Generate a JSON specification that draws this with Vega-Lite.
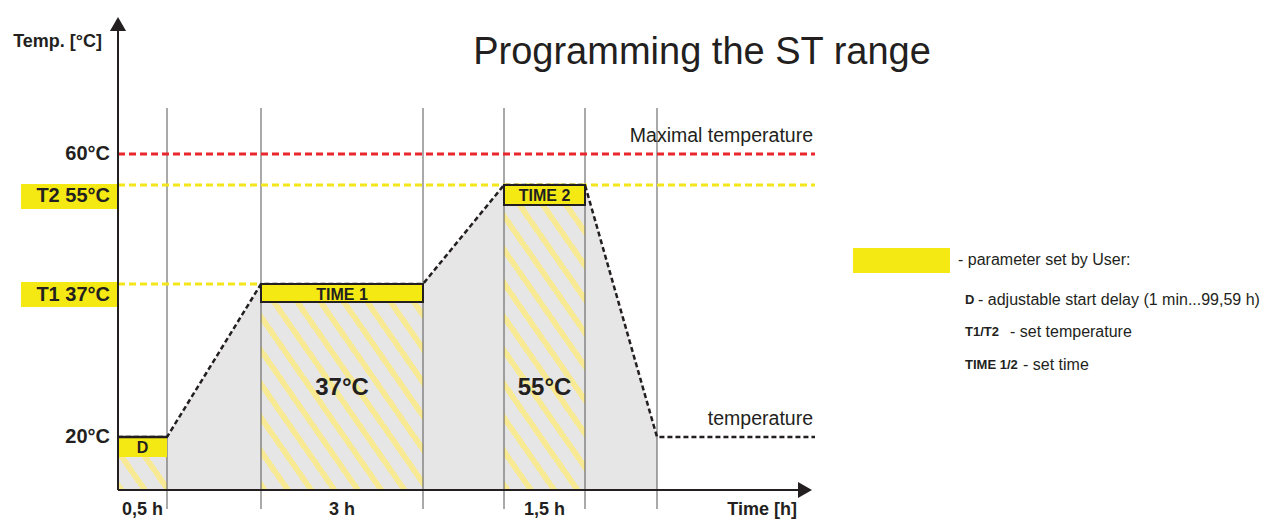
{
  "$schema": "https://vega.github.io/schema/vega-lite/v6.json",
  "width": 1271,
  "height": 520,
  "autosize": "none",
  "padding": 0,
  "config": {"view": {"stroke": null}},
  "datasets": {
    "curve": [
      {"u": 0, "v": 5.3}, {"u": 0.49, "v": 5.3}, {"u": 1.43, "v": 20.6}, {"u": 3.05, "v": 20.6},
      {"u": 3.86, "v": 30.5}, {"u": 4.67, "v": 30.5}, {"u": 5.39, "v": 5.3}, {"u": 6.97, "v": 5.3}
    ],
    "holds": [
      {"label": "D", "u0": 0, "u1": 0.49, "mid": 0.245, "level": 5.3, "base": 0, "boxBottom": 3.3, "dur": "0,5 h", "durV": -2.5, "inside": "", "insideV": 10.2},
      {"label": "TIME 1", "u0": 1.43, "u1": 3.05, "mid": 2.24, "level": 20.6, "base": 0, "boxBottom": 18.8, "dur": "3 h", "durV": -2.5, "inside": "37°C", "insideV": 10.2},
      {"label": "TIME 2", "u0": 3.86, "u1": 4.67, "mid": 4.265, "level": 30.5, "base": 0, "boxBottom": 28.5, "dur": "1,5 h", "durV": -2.5, "inside": "55°C", "insideV": 10.2}
    ],
    "levels": [
      {"v": 33.6, "label": "60°C", "kind": "max", "start": 0, "end": 6.97},
      {"v": 30.5, "label": "T2 55°C", "kind": "set", "start": 0, "end": 6.97},
      {"v": 20.6, "label": "T1 37°C", "kind": "set", "start": 0, "end": 1.43},
      {"v": 5.3, "label": "20°C", "kind": "base", "start": 0, "end": 0}
    ],
    "boundaries": [
      {"u": 0.49, "top": 38.2, "bottom": -1.9}, {"u": 1.43, "top": 38.2, "bottom": -1.9}, {"u": 3.05, "top": 38.2, "bottom": -1.9},
      {"u": 3.86, "top": 38.2, "bottom": -1.9}, {"u": 4.67, "top": 38.2, "bottom": -1.9}, {"u": 5.39, "top": 38.2, "bottom": -1.9}
    ],
    "boxes": [
      {"name": "T2", "x0": -0.97, "x1": -0.01, "top": 30.6, "bottom": 28.1},
      {"name": "T1", "x0": -0.97, "x1": -0.01, "top": 20.8, "bottom": 18.3},
      {"name": "legend", "x0": 7.35, "x1": 8.32, "top": 24.2, "bottom": 21.7}
    ],
    "legend": [
      {"key": "D", "desc": "- adjustable start delay  (1 min...99,59 h)", "v": 19.0, "keyU": 8.47, "descU": 8.6},
      {"key": "T1/T2", "desc": "- set temperature", "v": 15.8, "keyU": 8.47, "descU": 8.92},
      {"key": "TIME 1/2", "desc": "- set time", "v": 12.5, "keyU": 8.47, "descU": 9.05}
    ]
  },
  "layer": [
    {
      "data": {"name": "curve"},
      "transform": [{"filter": "datum.u <= 5.39"}],
      "mark": {"type": "area", "color": "#e6e6e6"},
      "encoding": {
        "x": {"field": "u", "type": "quantitative", "axis": null, "scale": {"domain": [-1.18, 11.53], "nice": false, "zero": false}},
        "y": {"field": "v", "type": "quantitative", "axis": null, "scale": {"domain": [-3, 49], "nice": false, "zero": false}}
      }
    },
    {
      "data": {"name": "holds"},
      "transform": [{"filter": "datum.label === 'D'"}],
      "mark": {"type": "rect", "color": {"gradient": "linear", "x1": 0, "y1": 1, "x2": 1.1195, "y2": 0.1591, "stops": [
        {"offset": 0, "color": "#f8ea94"}, {"offset": 0.0816, "color": "#f8ea94"}, {"offset": 0.0816, "color": "#e6e6e6"}, {"offset": 0.2719, "color": "#e6e6e6"},
        {"offset": 0.2719, "color": "#f8ea94"}, {"offset": 0.3535, "color": "#f8ea94"}, {"offset": 0.3535, "color": "#e6e6e6"}, {"offset": 0.5439, "color": "#e6e6e6"},
        {"offset": 0.5439, "color": "#f8ea94"}, {"offset": 0.6255, "color": "#f8ea94"}, {"offset": 0.6255, "color": "#e6e6e6"}, {"offset": 0.8158, "color": "#e6e6e6"},
        {"offset": 0.8158, "color": "#f8ea94"}, {"offset": 0.8974, "color": "#f8ea94"}, {"offset": 0.8974, "color": "#e6e6e6"}, {"offset": 1, "color": "#e6e6e6"}
      ]}},
      "encoding": {
        "x": {"field": "u0", "type": "quantitative", "axis": null, "scale": {"domain": [-1.18, 11.53], "nice": false, "zero": false}},
        "x2": {"field": "u1"},
        "y": {"field": "level", "type": "quantitative", "axis": null, "scale": {"domain": [-3, 49], "nice": false, "zero": false}},
        "y2": {"field": "base"}
      }
    },
    {
      "data": {"name": "holds"},
      "transform": [{"filter": "datum.label === 'TIME 1'"}],
      "mark": {"type": "rect", "color": {"gradient": "linear", "x1": 0, "y1": 1, "x2": 1.058, "y2": 0.0658, "stops": [
        {"offset": 0, "color": "#f8ea94"}, {"offset": 0.023, "color": "#f8ea94"}, {"offset": 0.023, "color": "#e6e6e6"}, {"offset": 0.0765, "color": "#e6e6e6"},
        {"offset": 0.0765, "color": "#f8ea94"}, {"offset": 0.0994, "color": "#f8ea94"}, {"offset": 0.0994, "color": "#e6e6e6"}, {"offset": 0.153, "color": "#e6e6e6"},
        {"offset": 0.153, "color": "#f8ea94"}, {"offset": 0.1759, "color": "#f8ea94"}, {"offset": 0.1759, "color": "#e6e6e6"}, {"offset": 0.2295, "color": "#e6e6e6"},
        {"offset": 0.2295, "color": "#f8ea94"}, {"offset": 0.2524, "color": "#f8ea94"}, {"offset": 0.2524, "color": "#e6e6e6"}, {"offset": 0.306, "color": "#e6e6e6"},
        {"offset": 0.306, "color": "#f8ea94"}, {"offset": 0.3289, "color": "#f8ea94"}, {"offset": 0.3289, "color": "#e6e6e6"}, {"offset": 0.3825, "color": "#e6e6e6"},
        {"offset": 0.3825, "color": "#f8ea94"}, {"offset": 0.4054, "color": "#f8ea94"}, {"offset": 0.4054, "color": "#e6e6e6"}, {"offset": 0.4589, "color": "#e6e6e6"},
        {"offset": 0.4589, "color": "#f8ea94"}, {"offset": 0.4819, "color": "#f8ea94"}, {"offset": 0.4819, "color": "#e6e6e6"}, {"offset": 0.5354, "color": "#e6e6e6"},
        {"offset": 0.5354, "color": "#f8ea94"}, {"offset": 0.5584, "color": "#f8ea94"}, {"offset": 0.5584, "color": "#e6e6e6"}, {"offset": 0.6119, "color": "#e6e6e6"},
        {"offset": 0.6119, "color": "#f8ea94"}, {"offset": 0.6349, "color": "#f8ea94"}, {"offset": 0.6349, "color": "#e6e6e6"}, {"offset": 0.6884, "color": "#e6e6e6"},
        {"offset": 0.6884, "color": "#f8ea94"}, {"offset": 0.7114, "color": "#f8ea94"}, {"offset": 0.7114, "color": "#e6e6e6"}, {"offset": 0.7649, "color": "#e6e6e6"},
        {"offset": 0.7649, "color": "#f8ea94"}, {"offset": 0.7879, "color": "#f8ea94"}, {"offset": 0.7879, "color": "#e6e6e6"}, {"offset": 0.8414, "color": "#e6e6e6"},
        {"offset": 0.8414, "color": "#f8ea94"}, {"offset": 0.8643, "color": "#f8ea94"}, {"offset": 0.8643, "color": "#e6e6e6"}, {"offset": 0.9179, "color": "#e6e6e6"},
        {"offset": 0.9179, "color": "#f8ea94"}, {"offset": 0.9408, "color": "#f8ea94"}, {"offset": 0.9408, "color": "#e6e6e6"}, {"offset": 0.9944, "color": "#e6e6e6"},
        {"offset": 0.9944, "color": "#f8ea94"}, {"offset": 1, "color": "#f8ea94"}
      ]}},
      "encoding": {
        "x": {"field": "u0", "type": "quantitative", "axis": null, "scale": {"domain": [-1.18, 11.53], "nice": false, "zero": false}},
        "x2": {"field": "u1"},
        "y": {"field": "level", "type": "quantitative", "axis": null, "scale": {"domain": [-3, 49], "nice": false, "zero": false}},
        "y2": {"field": "base"}
      }
    },
    {
      "data": {"name": "holds"},
      "transform": [{"filter": "datum.label === 'TIME 2'"}],
      "mark": {"type": "rect", "color": {"gradient": "linear", "x1": 0, "y1": 1, "x2": 0.4612, "y2": -0.206, "stops": [
        {"offset": 0, "color": "#f8ea94"}, {"offset": 0.0239, "color": "#f8ea94"}, {"offset": 0.0239, "color": "#e6e6e6"}, {"offset": 0.0797, "color": "#e6e6e6"},
        {"offset": 0.0797, "color": "#f8ea94"}, {"offset": 0.1036, "color": "#f8ea94"}, {"offset": 0.1036, "color": "#e6e6e6"}, {"offset": 0.1594, "color": "#e6e6e6"},
        {"offset": 0.1594, "color": "#f8ea94"}, {"offset": 0.1833, "color": "#f8ea94"}, {"offset": 0.1833, "color": "#e6e6e6"}, {"offset": 0.2391, "color": "#e6e6e6"},
        {"offset": 0.2391, "color": "#f8ea94"}, {"offset": 0.263, "color": "#f8ea94"}, {"offset": 0.263, "color": "#e6e6e6"}, {"offset": 0.3188, "color": "#e6e6e6"},
        {"offset": 0.3188, "color": "#f8ea94"}, {"offset": 0.3427, "color": "#f8ea94"}, {"offset": 0.3427, "color": "#e6e6e6"}, {"offset": 0.3985, "color": "#e6e6e6"},
        {"offset": 0.3985, "color": "#f8ea94"}, {"offset": 0.4224, "color": "#f8ea94"}, {"offset": 0.4224, "color": "#e6e6e6"}, {"offset": 0.4781, "color": "#e6e6e6"},
        {"offset": 0.4781, "color": "#f8ea94"}, {"offset": 0.5021, "color": "#f8ea94"}, {"offset": 0.5021, "color": "#e6e6e6"}, {"offset": 0.5578, "color": "#e6e6e6"},
        {"offset": 0.5578, "color": "#f8ea94"}, {"offset": 0.5817, "color": "#f8ea94"}, {"offset": 0.5817, "color": "#e6e6e6"}, {"offset": 0.6375, "color": "#e6e6e6"},
        {"offset": 0.6375, "color": "#f8ea94"}, {"offset": 0.6614, "color": "#f8ea94"}, {"offset": 0.6614, "color": "#e6e6e6"}, {"offset": 0.7172, "color": "#e6e6e6"},
        {"offset": 0.7172, "color": "#f8ea94"}, {"offset": 0.7411, "color": "#f8ea94"}, {"offset": 0.7411, "color": "#e6e6e6"}, {"offset": 0.7969, "color": "#e6e6e6"},
        {"offset": 0.7969, "color": "#f8ea94"}, {"offset": 0.8208, "color": "#f8ea94"}, {"offset": 0.8208, "color": "#e6e6e6"}, {"offset": 0.8766, "color": "#e6e6e6"},
        {"offset": 0.8766, "color": "#f8ea94"}, {"offset": 0.9005, "color": "#f8ea94"}, {"offset": 0.9005, "color": "#e6e6e6"}, {"offset": 0.9563, "color": "#e6e6e6"},
        {"offset": 0.9563, "color": "#f8ea94"}, {"offset": 0.9802, "color": "#f8ea94"}, {"offset": 0.9802, "color": "#e6e6e6"}, {"offset": 1, "color": "#e6e6e6"}
      ]}},
      "encoding": {
        "x": {"field": "u0", "type": "quantitative", "axis": null, "scale": {"domain": [-1.18, 11.53], "nice": false, "zero": false}},
        "x2": {"field": "u1"},
        "y": {"field": "level", "type": "quantitative", "axis": null, "scale": {"domain": [-3, 49], "nice": false, "zero": false}},
        "y2": {"field": "base"}
      }
    },
    {
      "data": {"name": "boundaries"},
      "mark": {"type": "rule", "color": "#555555", "strokeWidth": 1},
      "encoding": {
        "x": {"field": "u", "type": "quantitative", "axis": null, "scale": {"domain": [-1.18, 11.53], "nice": false, "zero": false}},
        "y": {"field": "top", "type": "quantitative", "axis": null, "scale": {"domain": [-3, 49], "nice": false, "zero": false}},
        "y2": {"field": "bottom"}
      }
    },
    {
      "data": {"name": "levels"},
      "transform": [{"filter": "datum.kind === 'max'"}],
      "mark": {"type": "rule", "color": "#e8262b", "strokeWidth": 3, "strokeDash": [7, 4]},
      "encoding": {
        "x": {"field": "start", "type": "quantitative", "axis": null, "scale": {"domain": [-1.18, 11.53], "nice": false, "zero": false}},
        "x2": {"field": "end"},
        "y": {"field": "v", "type": "quantitative", "axis": null, "scale": {"domain": [-3, 49], "nice": false, "zero": false}}
      }
    },
    {
      "data": {"name": "levels"},
      "transform": [{"filter": "datum.kind === 'set'"}],
      "mark": {"type": "rule", "color": "#f4e61a", "strokeWidth": 3, "strokeDash": [7, 4]},
      "encoding": {
        "x": {"field": "start", "type": "quantitative", "axis": null, "scale": {"domain": [-1.18, 11.53], "nice": false, "zero": false}},
        "x2": {"field": "end"},
        "y": {"field": "v", "type": "quantitative", "axis": null, "scale": {"domain": [-3, 49], "nice": false, "zero": false}}
      }
    },
    {
      "data": {"name": "boxes"},
      "mark": {"type": "rect", "fill": "#f5e914"},
      "encoding": {
        "x": {"field": "x0", "type": "quantitative", "axis": null, "scale": {"domain": [-1.18, 11.53], "nice": false, "zero": false}},
        "x2": {"field": "x1"},
        "y": {"field": "top", "type": "quantitative", "axis": null, "scale": {"domain": [-3, 49], "nice": false, "zero": false}},
        "y2": {"field": "bottom"}
      }
    },
    {
      "data": {"name": "levels"},
      "transform": [{"filter": "datum.kind !== 'set'"}],
      "mark": {"type": "text", "align": "right", "baseline": "middle", "dx": -8, "font": "Liberation Sans", "fontSize": 20, "fontWeight": "bold", "color": "#231f20"},
      "encoding": {
        "x": {"field": "start", "type": "quantitative", "axis": null, "scale": {"domain": [-1.18, 11.53], "nice": false, "zero": false}},
        "y": {"field": "v", "type": "quantitative", "axis": null, "scale": {"domain": [-3, 49], "nice": false, "zero": false}},
        "text": {"field": "label", "type": "nominal"}
      }
    },
    {
      "data": {"name": "levels"},
      "transform": [{"filter": "datum.kind === 'set'"}],
      "mark": {"type": "text", "align": "right", "baseline": "middle", "dx": -8, "dy": 11, "font": "Liberation Sans", "fontSize": 20, "fontWeight": "bold", "color": "#231f20"},
      "encoding": {
        "x": {"field": "start", "type": "quantitative", "axis": null, "scale": {"domain": [-1.18, 11.53], "nice": false, "zero": false}},
        "y": {"field": "v", "type": "quantitative", "axis": null, "scale": {"domain": [-3, 49], "nice": false, "zero": false}},
        "text": {"field": "label", "type": "nominal"}
      }
    },
    {
      "data": {"name": "curve"},
      "mark": {"type": "line", "color": "#231f20", "strokeWidth": 2.5, "strokeDash": [5, 3]},
      "encoding": {
        "x": {"field": "u", "type": "quantitative", "axis": null, "scale": {"domain": [-1.18, 11.53], "nice": false, "zero": false}},
        "y": {"field": "v", "type": "quantitative", "axis": null, "scale": {"domain": [-3, 49], "nice": false, "zero": false}}
      }
    },
    {
      "data": {"name": "holds"},
      "transform": [{"filter": "datum.label === 'D'"}],
      "mark": {"type": "rect", "fill": "#f5e914"},
      "encoding": {
        "x": {"field": "u0", "type": "quantitative", "axis": null, "scale": {"domain": [-1.18, 11.53], "nice": false, "zero": false}},
        "x2": {"field": "u1"},
        "y": {"field": "level", "type": "quantitative", "axis": null, "scale": {"domain": [-3, 49], "nice": false, "zero": false}},
        "y2": {"field": "boxBottom"}
      }
    },
    {
      "data": {"name": "holds"},
      "transform": [{"filter": "datum.label === 'D'"}],
      "mark": {"type": "rule", "color": "#231f20", "strokeWidth": 2.5},
      "encoding": {
        "x": {"field": "u0", "type": "quantitative", "axis": null, "scale": {"domain": [-1.18, 11.53], "nice": false, "zero": false}},
        "x2": {"field": "u1"},
        "y": {"field": "level", "type": "quantitative", "axis": null, "scale": {"domain": [-3, 49], "nice": false, "zero": false}}
      }
    },
    {
      "data": {"name": "holds"},
      "transform": [{"filter": "datum.label !== 'D'"}],
      "mark": {"type": "rect", "fill": "#f5e914", "stroke": "#231f20", "strokeWidth": 2},
      "encoding": {
        "x": {"field": "u0", "type": "quantitative", "axis": null, "scale": {"domain": [-1.18, 11.53], "nice": false, "zero": false}},
        "x2": {"field": "u1"},
        "y": {"field": "level", "type": "quantitative", "axis": null, "scale": {"domain": [-3, 49], "nice": false, "zero": false}},
        "y2": {"field": "boxBottom"}
      }
    },
    {
      "data": {"name": "holds"},
      "mark": {"type": "text", "align": "center", "baseline": "middle", "dy": 11, "font": "Liberation Sans", "fontSize": 16, "fontWeight": "bold", "color": "#231f20"},
      "encoding": {
        "x": {"field": "mid", "type": "quantitative", "axis": null, "scale": {"domain": [-1.18, 11.53], "nice": false, "zero": false}},
        "y": {"field": "level", "type": "quantitative", "axis": null, "scale": {"domain": [-3, 49], "nice": false, "zero": false}},
        "text": {"field": "label", "type": "nominal"}
      }
    },
    {
      "data": {"name": "holds"},
      "transform": [{"filter": "datum.inside !== ''"}],
      "mark": {"type": "text", "align": "center", "baseline": "middle", "font": "Liberation Sans", "fontSize": 24, "fontWeight": "bold", "color": "#231f20"},
      "encoding": {
        "x": {"field": "mid", "type": "quantitative", "axis": null, "scale": {"domain": [-1.18, 11.53], "nice": false, "zero": false}},
        "y": {"field": "insideV", "type": "quantitative", "axis": null, "scale": {"domain": [-3, 49], "nice": false, "zero": false}},
        "text": {"field": "inside", "type": "nominal"}
      }
    },
    {
      "data": {"name": "holds"},
      "mark": {"type": "text", "align": "center", "baseline": "alphabetic", "font": "Liberation Sans", "fontSize": 18, "fontWeight": "bold", "color": "#231f20"},
      "encoding": {
        "x": {"field": "mid", "type": "quantitative", "axis": null, "scale": {"domain": [-1.18, 11.53], "nice": false, "zero": false}},
        "y": {"field": "durV", "type": "quantitative", "axis": null, "scale": {"domain": [-3, 49], "nice": false, "zero": false}},
        "text": {"field": "dur", "type": "nominal"}
      }
    },
    {
      "data": {"values": [{"label": "Time [h]", "u": 6.79, "v": -2.5}, {"label": "Temp. [°C]", "u": -0.16, "v": 44.3}]},
      "mark": {"type": "text", "align": "right", "baseline": "alphabetic", "font": "Liberation Sans", "fontSize": 18, "fontWeight": "bold", "color": "#231f20"},
      "encoding": {
        "x": {"field": "u", "type": "quantitative", "axis": null, "scale": {"domain": [-1.18, 11.53], "nice": false, "zero": false}},
        "y": {"field": "v", "type": "quantitative", "axis": null, "scale": {"domain": [-3, 49], "nice": false, "zero": false}},
        "text": {"field": "label", "type": "nominal"}
      }
    },
    {
      "data": {"values": [{"label": "Programming the ST range", "u": 5.84, "v": 42.6}]},
      "mark": {"type": "text", "align": "center", "baseline": "alphabetic", "font": "Liberation Sans", "fontSize": 38, "fontWeight": "normal", "color": "#231f20"},
      "encoding": {
        "x": {"field": "u", "type": "quantitative", "axis": null, "scale": {"domain": [-1.18, 11.53], "nice": false, "zero": false}},
        "y": {"field": "v", "type": "quantitative", "axis": null, "scale": {"domain": [-3, 49], "nice": false, "zero": false}},
        "text": {"field": "label", "type": "nominal"}
      }
    },
    {
      "data": {"values": [{"label": "Maximal temperature", "u": 6.95, "v": 34.8}, {"label": "temperature", "u": 6.95, "v": 6.5}]},
      "mark": {"type": "text", "align": "right", "baseline": "alphabetic", "font": "Liberation Sans", "fontSize": 19.5, "fontWeight": "normal", "color": "#231f20"},
      "encoding": {
        "x": {"field": "u", "type": "quantitative", "axis": null, "scale": {"domain": [-1.18, 11.53], "nice": false, "zero": false}},
        "y": {"field": "v", "type": "quantitative", "axis": null, "scale": {"domain": [-3, 49], "nice": false, "zero": false}},
        "text": {"field": "label", "type": "nominal"}
      }
    },
    {
      "data": {"values": [{"name": "Temp", "u": 0, "v0": 0, "v1": 45.9}]},
      "mark": {"type": "rule", "color": "#231f20", "strokeWidth": 2},
      "encoding": {
        "x": {"field": "u", "type": "quantitative", "axis": null, "scale": {"domain": [-1.18, 11.53], "nice": false, "zero": false}},
        "y": {"field": "v0", "type": "quantitative", "axis": null, "scale": {"domain": [-3, 49], "nice": false, "zero": false}},
        "y2": {"field": "v1"}
      }
    },
    {
      "data": {"values": [{"name": "Time", "u0": 0, "u1": 6.8, "v": 0}]},
      "mark": {"type": "rule", "color": "#231f20", "strokeWidth": 2},
      "encoding": {
        "x": {"field": "u0", "type": "quantitative", "axis": null, "scale": {"domain": [-1.18, 11.53], "nice": false, "zero": false}},
        "x2": {"field": "u1"},
        "y": {"field": "v", "type": "quantitative", "axis": null, "scale": {"domain": [-3, 49], "nice": false, "zero": false}}
      }
    },
    {
      "data": {"values": [{"name": "Temp", "u": 0, "v": 46.6}]},
      "mark": {"type": "point", "shape": "triangle-up", "size": 260, "filled": true, "color": "#231f20", "opacity": 1},
      "encoding": {
        "x": {"field": "u", "type": "quantitative", "axis": null, "scale": {"domain": [-1.18, 11.53], "nice": false, "zero": false}},
        "y": {"field": "v", "type": "quantitative", "axis": null, "scale": {"domain": [-3, 49], "nice": false, "zero": false}}
      }
    },
    {
      "data": {"values": [{"name": "Time", "u": 6.87, "v": 0}]},
      "mark": {"type": "point", "shape": "triangle-right", "size": 260, "filled": true, "color": "#231f20", "opacity": 1},
      "encoding": {
        "x": {"field": "u", "type": "quantitative", "axis": null, "scale": {"domain": [-1.18, 11.53], "nice": false, "zero": false}},
        "y": {"field": "v", "type": "quantitative", "axis": null, "scale": {"domain": [-3, 49], "nice": false, "zero": false}}
      }
    },
    {
      "data": {"values": [{"label": "- parameter set by User:", "u": 8.4, "v": 23.0}]},
      "mark": {"type": "text", "align": "left", "baseline": "middle", "font": "Liberation Sans", "fontSize": 16, "color": "#231f20"},
      "encoding": {
        "x": {"field": "u", "type": "quantitative", "axis": null, "scale": {"domain": [-1.18, 11.53], "nice": false, "zero": false}},
        "y": {"field": "v", "type": "quantitative", "axis": null, "scale": {"domain": [-3, 49], "nice": false, "zero": false}},
        "text": {"field": "label", "type": "nominal"}
      }
    },
    {
      "data": {"name": "legend"},
      "mark": {"type": "text", "align": "left", "baseline": "middle", "font": "Liberation Sans", "fontSize": 13, "fontWeight": "bold", "color": "#231f20"},
      "encoding": {
        "x": {"field": "keyU", "type": "quantitative", "axis": null, "scale": {"domain": [-1.18, 11.53], "nice": false, "zero": false}},
        "y": {"field": "v", "type": "quantitative", "axis": null, "scale": {"domain": [-3, 49], "nice": false, "zero": false}},
        "text": {"field": "key", "type": "nominal"}
      }
    },
    {
      "data": {"name": "legend"},
      "mark": {"type": "text", "align": "left", "baseline": "middle", "font": "Liberation Sans", "fontSize": 16, "color": "#231f20"},
      "encoding": {
        "x": {"field": "descU", "type": "quantitative", "axis": null, "scale": {"domain": [-1.18, 11.53], "nice": false, "zero": false}},
        "y": {"field": "v", "type": "quantitative", "axis": null, "scale": {"domain": [-3, 49], "nice": false, "zero": false}},
        "text": {"field": "desc", "type": "nominal"}
      }
    }
  ]
}
